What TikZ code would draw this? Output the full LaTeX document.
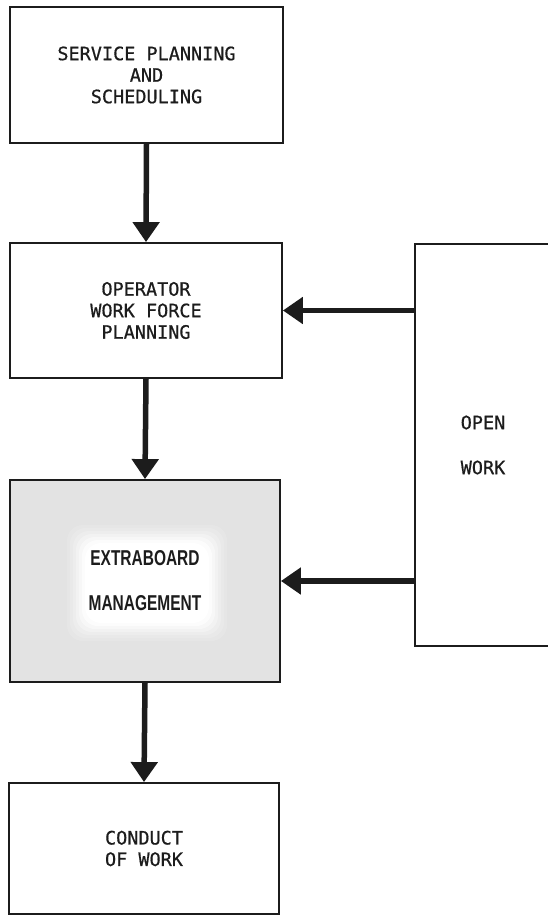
\documentclass[tikz,border=0pt]{standalone}
\usepackage{fontspec}
\setmonofont[FakeBold=0.6]{DejaVu Sans Mono}
\newfontfamily\xbfont[FakeStretch=0.72]{Liberation Sans}
\usetikzlibrary{arrows.meta,calc}
\definecolor{ink}{HTML}{1C1C1C}
\definecolor{panelgray}{HTML}{E3E3E3}
\newcommand{\boxfont}{\ttfamily\fontsize{18.5}{21.5}\selectfont}
\tikzset{
  flowbox/.style={draw=ink, line width=1.8pt, inner sep=0pt, align=center,
                  font=\boxfont, text=ink},
  flowarrow/.style={draw=ink, line width=5.5pt,
                    -{Triangle[length=20pt,width=26pt]}},
}
\begin{document}
\begin{tikzpicture}[x=1pt,y=-1pt]
\useasboundingbox[fill=white] (0,0) rectangle (548,917);

% main column of process boxes
\node[flowbox, minimum width=273pt, minimum height=136pt] (plan) at (146.5,75)
  {SERVICE PLANNING\\AND\\SCHEDULING};
\node[flowbox, minimum width=272pt, minimum height=135pt] (force) at (146,310.5)
  {OPERATOR\\WORK FORCE\\PLANNING};
\node[flowbox, fill=panelgray, minimum width=270pt, minimum height=202pt] (extra) at (145,581) {};
\node[flowbox, minimum width=270pt, minimum height=131pt] (conduct) at (144,848.5)
  {CONDUCT\\OF WORK};

% side input box, running off the right edge
\node[flowbox, minimum width=136pt, minimum height=402pt] (open) at (483,445)
  {OPEN\\[23.5pt]WORK};

% soft white patch behind the highlighted label
\foreach \g/\o in {0/0.12,3/0.15,6/0.2,9/0.3,12/0.45,15/0.7,18/1}{
  \fill[white, opacity=\o, rounded corners=16pt]
    ($(extra.center)+(-78+\g,-56+\g)$) rectangle ($(extra.center)+(82-\g,60-\g)$);
}
\node[text=ink, align=center, font=\xbfont\bfseries\fontsize{21.5}{22}\selectfont] (extralabel) at (extra.center)
  {EXTRABOARD\\[23pt]MANAGEMENT};

% connectors
\draw[flowarrow] (plan.south) -- (force.north);
\draw[flowarrow] (force.south) -- (extra.north);
\draw[flowarrow] (extra.south) -- (conduct.north);
\draw[flowarrow] (force.east -| open.west) -- (force.east);
\draw[flowarrow] (extra.east -| open.west) -- (extra.east);
\end{tikzpicture}
\end{document}
